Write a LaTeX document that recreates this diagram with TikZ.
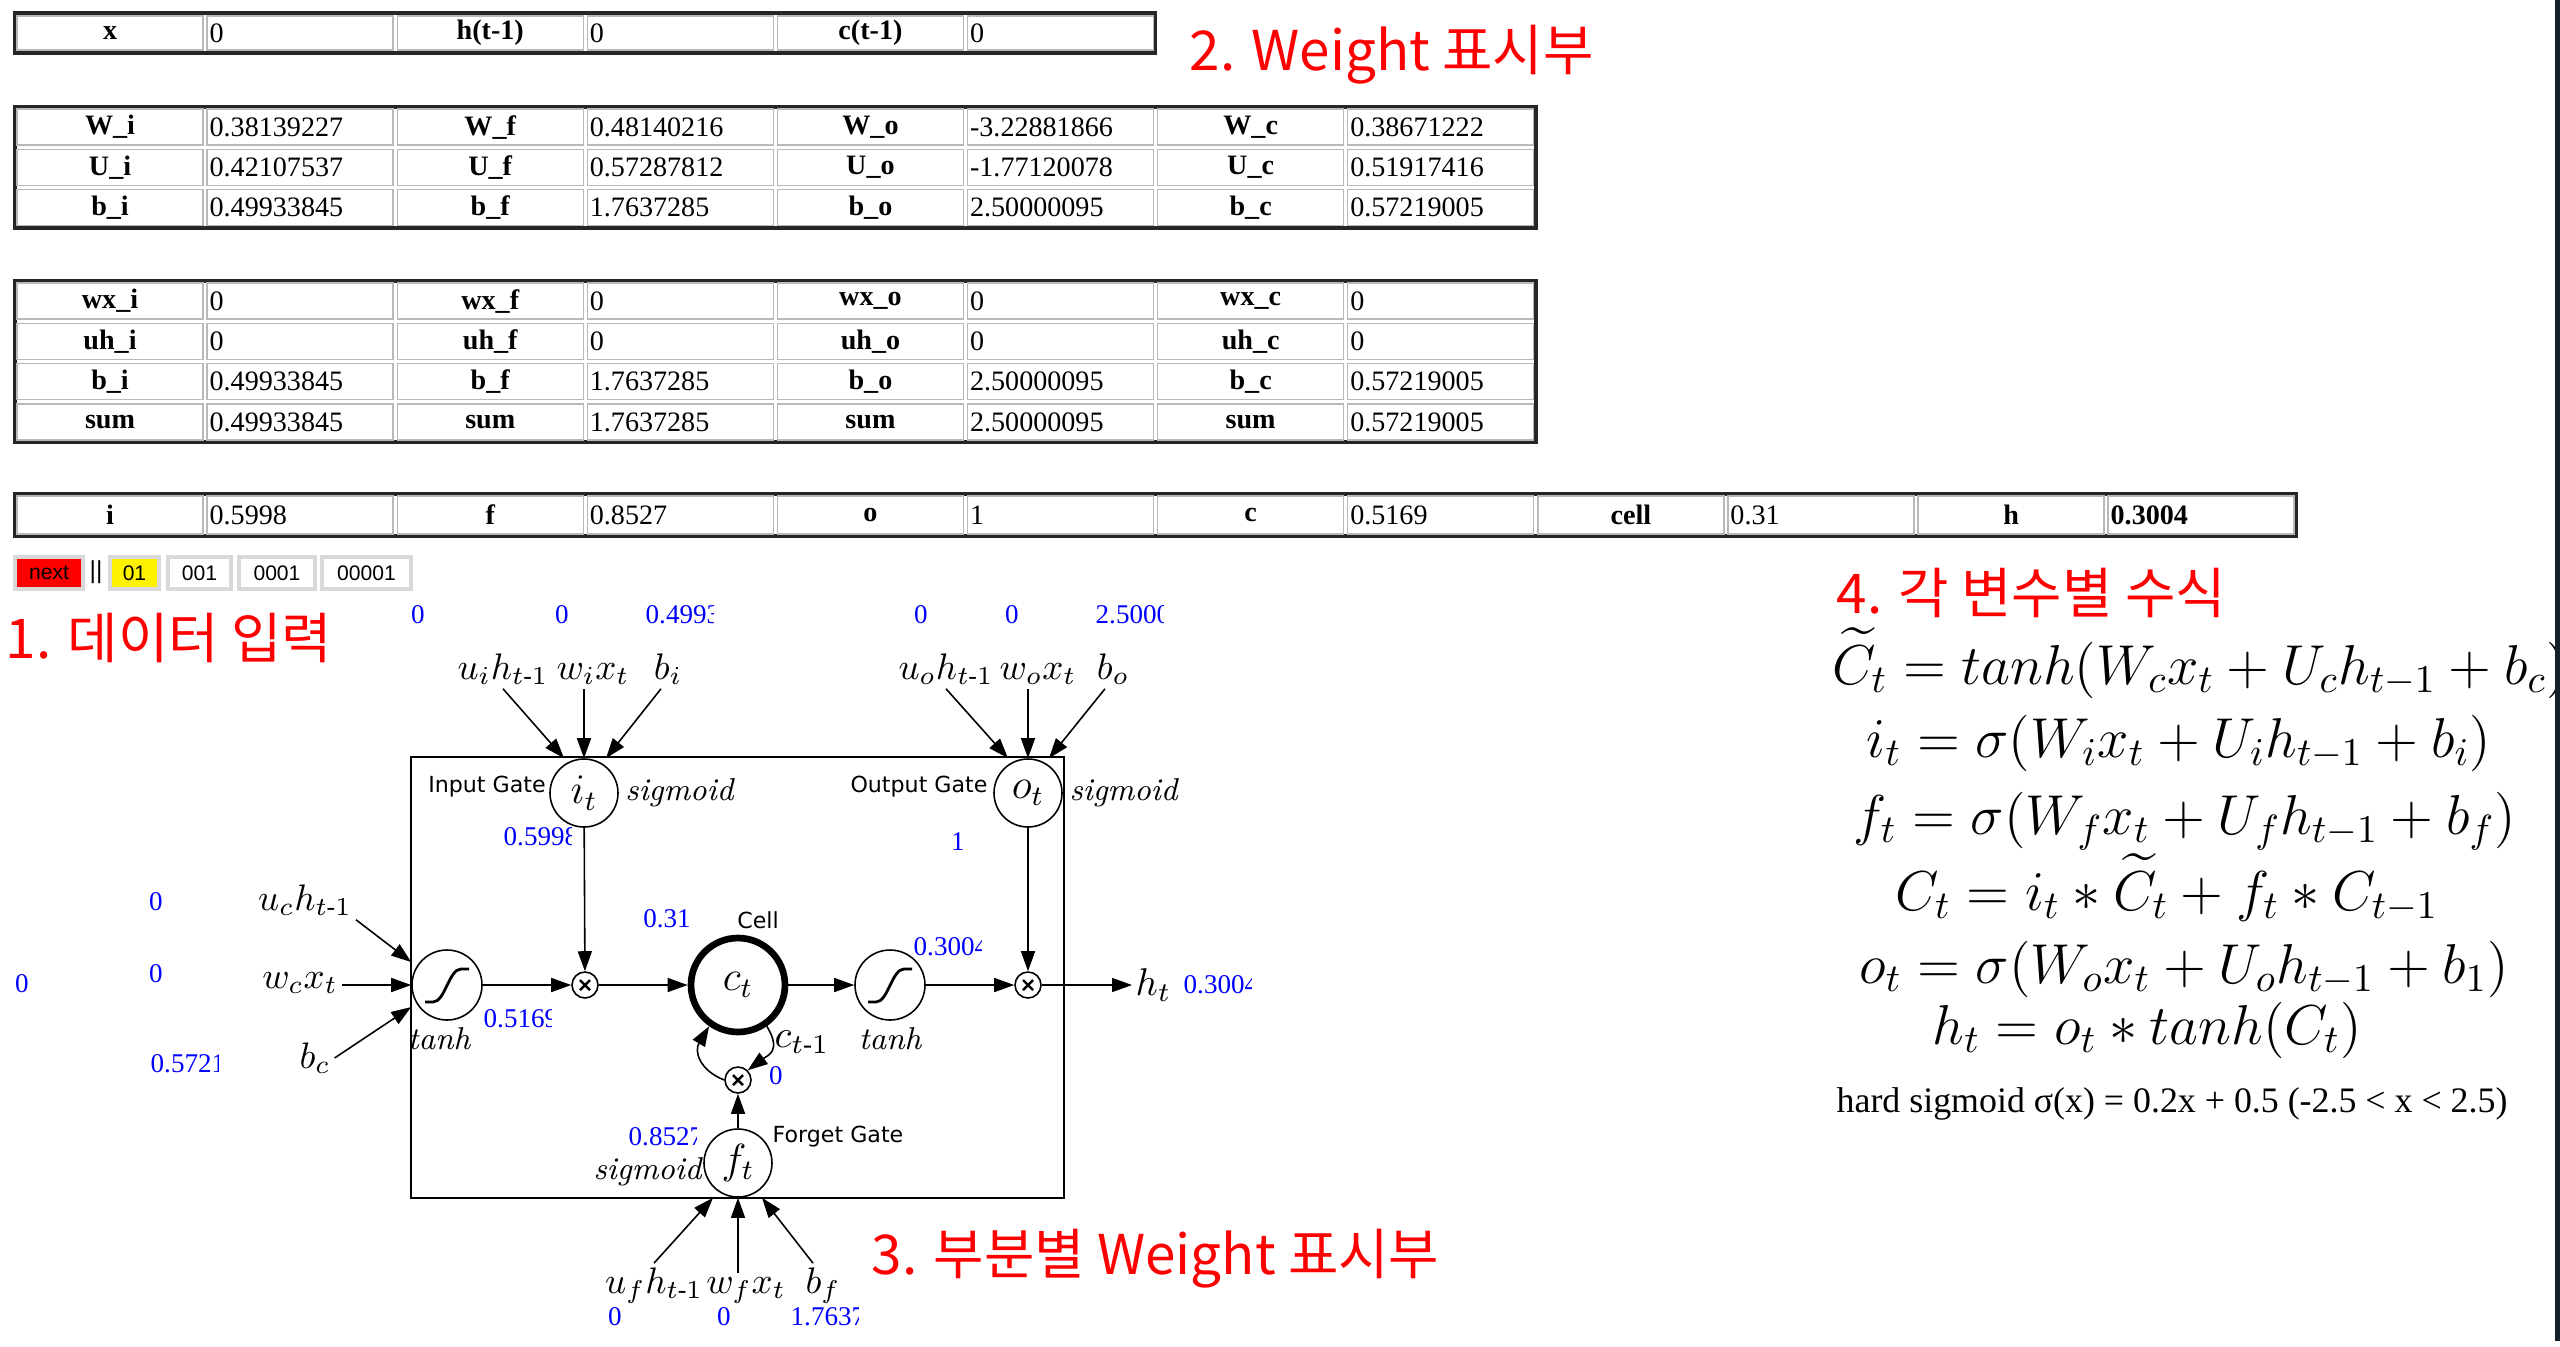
\RequirePackage{fix-cm}
\documentclass[tikz,border=0pt]{standalone}
\usepackage{amsmath}
\usepackage{fontspec}
\setmainfont{Liberation Serif}
\setsansfont{DejaVu Sans}
\newfontfamily\krfont{Noto Sans CJK KR}
\newfontfamily\btnfont{Liberation Sans}
\newfontfamily\lmfont{Latin Modern Roman}
\usepackage{xcolor}
\usepackage{tikz}
\usetikzlibrary{positioning,arrows.meta,shapes.geometric}

\definecolor{edgebar}{RGB}{18,34,40}
% blue value, cut off after a fixed width
\newcommand{\cutnum}[4]{\begin{scope}\clip (#2,#3-14) rectangle ++(68,28);
  \node[num,anchor=west] (#1) at (#2,#3) {#4};\end{scope}}

\begin{document}
\begin{tikzpicture}[x=0.1mm,y=-0.1mm,
  tcell/.style={draw=gray!55,line width=0.4pt,minimum width=18.6mm,minimum height=3.6mm,inner sep=0pt,font=\fontsize{8}{9}\selectfont},
  tlab/.style={tcell,font=\fontsize{8}{9}\selectfont\bfseries},
  tval/.style={tcell,text width=18.1mm,align=left},
  frame/.style={draw=gray!30!black,line width=0.9pt},
  btn/.style={draw=gray!30,line width=0.9pt,minimum height=3.2mm,inner sep=0pt,font=\btnfont\fontsize{6}{7}\selectfont},
  head/.style={text=red,font=\krfont\fontsize{15.6}{17}\selectfont,inner sep=0pt,anchor=base west},
  num/.style={text=blue,font=\fontsize{7.7}{9}\selectfont,inner sep=0pt},
  gate/.style={draw,circle,minimum size=6.8mm,inner sep=0pt,fill=white,line width=0.45pt,font=\fontsize{12}{14}\selectfont},
  squash/.style={draw,circle,minimum size=7mm,inner sep=0pt,line width=0.45pt,
    path picture={\draw[line width=0.8pt,shift={(path picture bounding box.center)}]
      (-22,17) -- (-14,17) .. controls (-2,17) and (2,-16) .. (14,-16) -- (22,-16);}},
  mult/.style={draw,circle,minimum size=2.6mm,inner sep=0pt,line width=0.45pt,
    path picture={\draw[line width=0.7pt,shift={(path picture bounding box.center)}]
      (-5,-5) -- (5,5) (-5,5) -- (5,-5);}},
  inp/.style={font=\fontsize{10.5}{12}\selectfont,inner sep=1pt,anchor=base},
  lbl/.style={font=\sffamily\fontsize{6.3}{7}\selectfont,inner sep=0pt},
  fn/.style={font=\lmfont\itshape\fontsize{9}{10}\selectfont,inner sep=0pt},
  eqn/.style={font=\fontsize{16}{19}\selectfont,anchor=base,inner sep=0pt},
  arr/.style={-{Triangle[length=2mm,width=1.4mm]},line width=0.45pt}]
  \fill[white] (0,0) rectangle (2560,1346);
  \useasboundingbox (0,0) rectangle (2560,1346);

  % tables
  \draw[frame] (15,13) rectangle (1155,53);
  \foreach \lab/\val [count=\k from 0] in {x/0, h(t-1)/0, c(t-1)/0} {
    \node[tlab,minimum height=3.4mm] (a\k) at ({15+(2*\k+0.5)*190.1},33) {\lab};
    \node[tval,minimum height=3.4mm] (av\k) at ({15+(2*\k+1.5)*190.1},33) {\val};
  }
  \draw[frame] (15,107) rectangle (1536,228);
  \foreach \r/\c/\lab/\val in {0/0/W\_i/0.38139227, 0/1/W\_f/0.48140216, 0/2/W\_o/-3.22881866, 0/3/W\_c/0.38671222,
      1/0/U\_i/0.42107537, 1/1/U\_f/0.57287812, 1/2/U\_o/-1.77120078, 1/3/U\_c/0.51917416,
      2/0/b\_i/0.49933845, 2/1/b\_f/1.7637285, 2/2/b\_o/2.50000095, 2/3/b\_c/0.57219005} {
    \node[tlab] (w\r\c) at ({15+(2*\c+0.5)*190.1},{107+(\r+0.5)*40.3}) {\lab};
    \node[tval] (wv\r\c) at ({15+(2*\c+1.5)*190.1},{107+(\r+0.5)*40.3}) {\val};
  }
  \draw[frame] (15,281) rectangle (1536,442);
  \foreach \r/\c/\lab/\val in {0/0/wx\_i/0, 0/1/wx\_f/0, 0/2/wx\_o/0, 0/3/wx\_c/0,
      1/0/uh\_i/0, 1/1/uh\_f/0, 1/2/uh\_o/0, 1/3/uh\_c/0,
      2/0/b\_i/0.49933845, 2/1/b\_f/1.7637285, 2/2/b\_o/2.50000095, 2/3/b\_c/0.57219005,
      3/0/sum/0.49933845, 3/1/sum/1.7637285, 3/2/sum/2.50000095, 3/3/sum/0.57219005} {
    \node[tlab] (s\r\c) at ({15+(2*\c+0.5)*190.1},{281+(\r+0.5)*40.25}) {\lab};
    \node[tval] (sv\r\c) at ({15+(2*\c+1.5)*190.1},{281+(\r+0.5)*40.25}) {\val};
  }
  \draw[frame] (15,494) rectangle (2296,536);
  \foreach \lab/\val [count=\k from 0] in {i/0.5998, f/0.8527, o/1, c/0.5169, cell/0.31, h/\textbf{0.3004}} {
    \node[tlab,minimum height=3.8mm] (g\k) at ({15+(2*\k+0.5)*190.1},515) {\lab};
    \node[tval,minimum height=3.8mm] (gv\k) at ({15+(2*\k+1.5)*190.1},515) {\val};
  }

  % buttons
  \node[btn,fill=red,minimum width=6.8mm] (next) at (49,573) {next};
  \node[font=\btnfont\fontsize{7}{8}\selectfont,inner sep=0pt] (sep) at (96,572) {||};
  \node[btn,fill=yellow,minimum width=4.9mm] (b1) at (134.5,573) {01};
  \node[btn,fill=white,minimum width=6.3mm] (b2) at (199.5,573) {001};
  \node[btn,fill=white,minimum width=7.6mm] (b3) at (277,573) {0001};
  \node[btn,fill=white,minimum width=8.9mm] (b4) at (366.5,573) {00001};

  % red titles
  \node[head] (t1) at (5,658) {1. 데이터 입력};
  \node[head] (t2) at (1189,70) {2. Weight 표시부};
  \node[head] (t3) at (871,1274) {3. 부분별 Weight 표시부};
  \node[head] (t4) at (1836,613) {4. 각 변수별 수식};

  % lstm cell
  \draw[line width=0.5pt] (411,757) rectangle (1064,1198);
  \node[gate] (it) at (584,793) {$i_t$};
  \node[gate] (ot) at (1028,793) {$o_t$};
  \node[gate] (ft) at (738,1163) {$f_t$};
  \node[draw,circle,line width=1.9pt,minimum size=9.4mm,inner sep=0pt,font=\fontsize{12}{14}\selectfont] (cell) at (738,985) {$c_t$};
  \node[squash] (th1) at (447,985) {};
  \node[squash] (th2) at (890,985) {};
  \node[mult] (m1) at (585,985) {};
  \node[mult] (m2) at (1028,985) {};
  \node[mult] (m3) at (738,1080) {};
  \node[anchor=west,inner sep=0.3mm,font=\fontsize{11}{13}\selectfont] (ht) at (1132,985) {$h_t$};

  \node[lbl] (ig) at (487,787) {Input Gate};
  \node[lbl] (og) at (919,787) {Output Gate};
  \node[lbl] (cl) at (758,920) {Cell};
  \node[lbl] (fg) at (838,1137) {Forget Gate};
  \node[fn,right=0.6mm of it] (sg1) {sigmoid};
  \node[fn,right=0.6mm of ot] (sg2) {sigmoid};
  \node[fn,left=0.1mm of ft,yshift=-0.9mm] (sg3) {sigmoid};
  \node[fn,below=0.6mm of th1,xshift=-0.8mm] (tl1) {tanh};
  \node[fn,below=0.6mm of th2] (tl2) {tanh};
  \node[font=\fontsize{11}{13}\selectfont,inner sep=0pt] (cprev) at (802,1042) {$c_{t\text{-}1}$};

  \node[inp] (uih) at (503,679) {$u_i h_{t\text{-}1}$};
  \node[inp] (wix) at (593,679) {$w_i x_t$};
  \node[inp] (bi) at (668,679) {$b_i$};
  \node[inp] (uoh) at (946,679) {$u_o h_{t\text{-}1}$};
  \node[inp] (wox) at (1038,679) {$w_o x_t$};
  \node[inp] (bo) at (1113,679) {$b_o$};
  \node[inp] (uch) at (305,910) {$u_c h_{t\text{-}1}$};
  \node[inp] (wcx) at (300,988) {$w_c x_t$};
  \node[inp] (bc) at (315,1068) {$b_c$};
  \node[inp] (ufh) at (654,1293) {$u_f h_{t\text{-}1}$};
  \node[inp] (wfx) at (746,1293) {$w_f x_t$};
  \node[inp] (bf) at (823,1293) {$b_f$};

  \draw[arr] (uih.south) -- ([xshift=-2mm]it.north);
  \draw[arr] (wix.south -| it.north) -- (it.north);
  \draw[arr] ([xshift=-0.7mm]bi.south) -- ([xshift=2.2mm]it.north);
  \draw[arr] (uoh.south) -- ([xshift=-2mm]ot.north);
  \draw[arr] (wox.south -| ot.north) -- (ot.north);
  \draw[arr] ([xshift=-0.8mm]bo.south) -- ([xshift=2.1mm]ot.north);
  \draw[arr] (uch.south east) -- ([yshift=2.3mm]th1.west);
  \draw[arr] (wcx.east |- th1.west) -- (th1.west);
  \draw[arr] (bc.east) -- ([yshift=-2.2mm]th1.west);
  \draw[arr] (ufh.north) -- ([xshift=-2.5mm]ft.south);
  \draw[arr] (wfx.north -| ft.south) -- (ft.south);
  \draw[arr] ([xshift=-1mm]bf.north) -- ([xshift=2.4mm]ft.south);

  \draw[arr] (th1) -- (m1);
  \draw[arr] (m1) -- (cell);
  \draw[arr] (cell) -- (th2);
  \draw[arr] (th2) -- (m2);
  \draw[arr] (m2) -- (ht);
  \draw[arr] (it) -- (m1);
  \draw[arr] (ot) -- (m2);
  \draw[arr] (ft) -- (m3);
  \draw[arr] (m3.west) .. controls +(-25,-10) and +(-15,25) .. (cell.235);
  \draw[arr] (cell.-55) .. controls +(15,25) and +(20,-15) .. (m3.45);

  % blue values
  \node[num] (vuih) at (418,615) {0};
  \node[num] (vwix) at (562,615) {0};
  \cutnum{vbi}{645}{615}{0.49933845}
  \node[num] (vuoh) at (921,615) {0};
  \node[num] (vwox) at (1012,615) {0};
  \cutnum{vbo}{1095}{615}{2.50000095}
  \cutnum{vit}{503}{837}{0.5998}
  \node[num] (vot) at (958,842) {1};
  \node[num] (vcell) at (667,919) {0.31};
  \cutnum{vh1}{913}{947}{0.3004}
  \cutnum{vc}{483}{1019}{0.5169}
  \cutnum{vh2}{1183}{985}{0.3004}
  \node[num] (vprev) at (776,1076) {0};
  \cutnum{vft}{628}{1137}{0.8527}
  \node[num] (vx) at (22,984) {0};
  \node[num] (vuch) at (156,902) {0};
  \node[num] (vwcx) at (156,974) {0};
  \cutnum{vbc}{150}{1064}{0.57219005}
  \node[num] (vufh) at (615,1317) {0};
  \node[num] (vwfx) at (724,1317) {0};
  \cutnum{vbf}{790}{1317}{1.7637285}

  % formulas
  \node[eqn] (e1) at (2200,684) {$\widetilde{C}_t = tanh(W_c x_t + U_c h_{t-1} + b_c)$};
  \node[eqn] (e2) at (2179,757) {$i_t = \sigma(W_i x_t + U_i h_{t-1} + b_i)$};
  \node[eqn] (e3) at (2185,834) {$f_t = \sigma(W_f x_t + U_f h_{t-1} + b_f)$};
  \node[eqn] (e4) at (2167,910) {$C_t = i_t * \widetilde{C}_t + f_t * C_{t-1}$};
  \node[eqn] (e5) at (2184,983) {$o_t = \sigma(W_o x_t + U_o h_{t-1} + b_1)$};
  \node[eqn] (e6) at (2147,1044) {$h_t = o_t * tanh(C_t)$};
  \node[font=\fontsize{10.2}{12}\selectfont,anchor=base west,inner sep=0pt] (hs) at (1836,1112) {hard sigmoid σ(x) = 0.2x + 0.5 (-2.5 < x < 2.5)};

  \fill[edgebar] (2555,0) rectangle (2560,1341);
\end{tikzpicture}
\end{document}
